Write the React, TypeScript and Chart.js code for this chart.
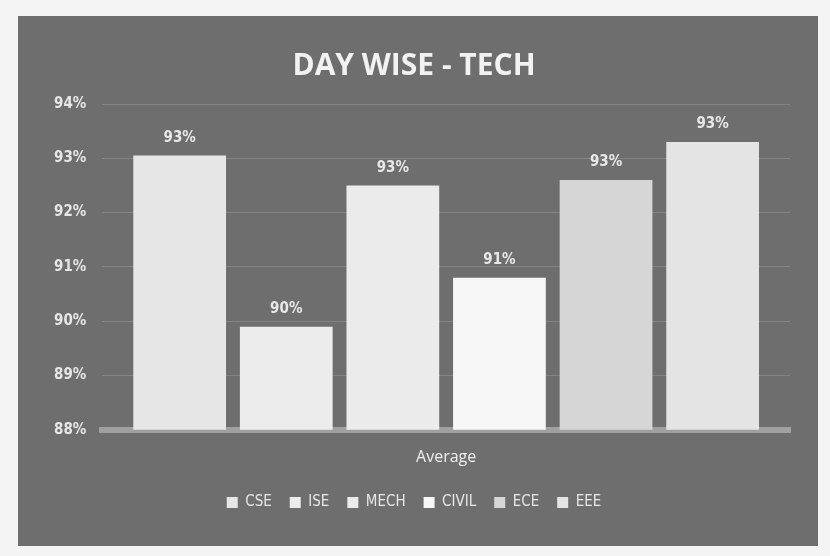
import React, { useEffect, useRef } from "react";
import { Chart, registerables } from "chart.js";

Chart.register(...registerables);

const categories = ["Average"];
const seriesNames = ["CSE", "ISE", "MECH", "CIVIL", "ECE", "EEE"];
const seriesValues = [93.05, 89.9, 92.5, 90.8, 92.6, 93.3];
const seriesColors = ["#e6e6e6", "#ececec", "#ebebeb", "#f7f7f7", "#d6d6d6", "#e4e4e4"];
const title = "DAY WISE - TECH";

const bgPlugin = {
  id: "bgPanel",
  beforeDraw(chart: any) {
    const { ctx, width, height } = chart;
    ctx.save();
    ctx.fillStyle = "#f4f4f4";
    ctx.fillRect(0, 0, width, height);
    ctx.fillStyle = "#6e6e6e";
    ctx.fillRect(18, 16, width - 30, height - 26);
    ctx.restore();
  },
};

const valueLabelPlugin = {
  id: "valueLabels",
  afterDatasetsDraw(chart: any) {
    const { ctx } = chart;
    ctx.save();
    ctx.fillStyle = "#e8e8e8";
    ctx.font = "bold 15px 'Liberation Sans Narrow', 'DejaVu Sans Condensed', sans-serif";
    ctx.textAlign = "center";
    ctx.textBaseline = "bottom";
    chart.data.datasets.forEach((ds: any, i: number) => {
      const meta = chart.getDatasetMeta(i);
      meta.data.forEach((bar: any, j: number) => {
        const v = ds.data[j];
        ctx.fillText(Math.round(v) + "%", bar.x, bar.y - 10);
      });
    });
    ctx.restore();
  },
};

export default function App() {
  const ref = useRef<HTMLCanvasElement>(null);
  useEffect(() => {
    if (!ref.current) return;
    const chart = new Chart(ref.current, {
      type: "bar",
      data: {
        labels: categories,
        datasets: seriesNames.map((name, i) => ({
          label: name,
          data: [seriesValues[i]],
          backgroundColor: seriesColors[i],
          borderWidth: 0,
        })),
      },
      options: {
        animation: false,
        responsive: false,
        layout: { padding: { left: 38, right: 40, top: 44, bottom: 36 } },
        datasets: {
          bar: { categoryPercentage: 0.93, barPercentage: 0.87 },
        },
        scales: {
          x: {
            grid: { display: false },
            border: { display: true, color: "#a0a0a0", width: 6 },
            ticks: {
              color: "#eeeeee",
              font: { size: 16, family: "'Open Sans', sans-serif" },
              padding: 10,
            },
          },
          y: {
            min: 88,
            max: 94,
            grid: { color: "rgba(200,200,200,0.25)", drawTicks: false },
            border: { display: false },
            ticks: {
              stepSize: 1,
              color: "#e6e6e6",
              padding: 16,
              font: { size: 15, weight: "bold", family: "'Liberation Sans Narrow', 'DejaVu Sans Condensed', sans-serif" },
              callback: (v: any) => v + "%",
            },
          },
        },
        plugins: {
          title: {
            display: true,
            text: title,
            color: "#f2f2f2",
            font: { size: 30, weight: "bold", family: "'Open Sans', sans-serif" },
            padding: { top: 4, bottom: 20 },
          },
          legend: {
            position: "bottom",
            labels: {
              color: "#e6e6e6",
              boxWidth: 11,
              boxHeight: 11,
              padding: 18,
              font: { size: 15, family: "'Liberation Sans Narrow', 'DejaVu Sans Condensed', sans-serif" },
            },
          },
          tooltip: { enabled: false },
        },
      },
      plugins: [bgPlugin, valueLabelPlugin],
    });
    return () => chart.destroy();
  }, []);
  return (
    <div style={{ position: "absolute", left: 0, top: 0, width: 830, height: 556 }}>
      <canvas ref={ref} width={830} height={556} style={{ display: "block" }} />
    </div>
  );
}
